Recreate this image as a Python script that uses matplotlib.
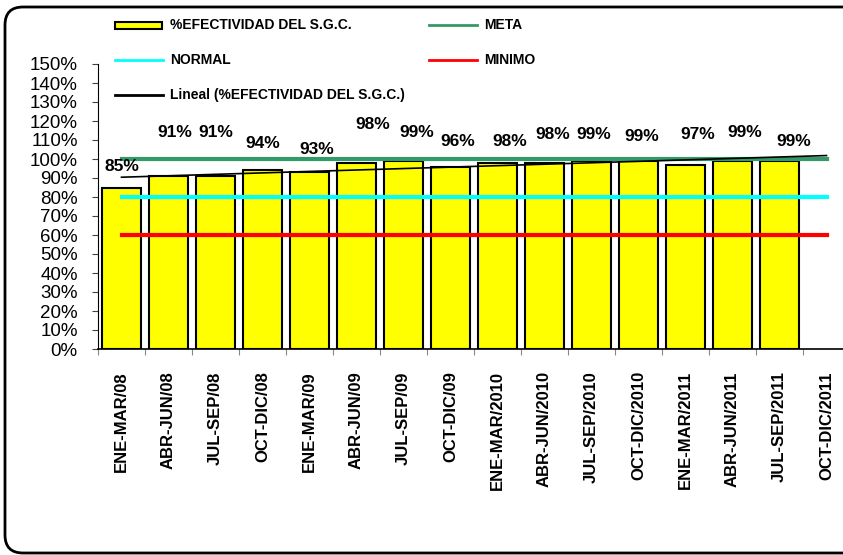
import numpy as np
import matplotlib
matplotlib.use("Agg")
import matplotlib.pyplot as plt
from matplotlib.patches import FancyBboxPatch, Rectangle
from matplotlib.lines import Line2D
from matplotlib.transforms import IdentityTransform

periodos = ["ENE-MAR/08", "ABR-JUN/08", "JUL-SEP/08", "OCT-DIC/08",
            "ENE-MAR/09", "ABR-JUN/09", "JUL-SEP/09", "OCT-DIC/09",
            "ENE-MAR/2010", "ABR-JUN/2010", "JUL-SEP/2010", "OCT-DIC/2010",
            "ENE-MAR/2011", "ABR-JUN/2011", "JUL-SEP/2011", "OCT-DIC/2011"]
efectividad = [85, 91, 91, 94, 93, 98, 99, 96, 98, 98, 99, 99, 97, 99, 99]
meta = 100
normal = 80
minimo = 60

# where the data labels sit (height in %, shift in categories)
label_y = [96, 114, 114, 108, 105, 118, 114, 109, 109, 113, 113, 112, 113, 114, 109]
label_dx = [0, .14, 0, 0, .16, .35, .29, .16, .27, .18, .05, .07, .27, .27, .31]

plt.rcParams['font.family'] = ['Liberation Sans', 'DejaVu Sans']

fig = plt.figure(figsize=(8.43, 5.55), dpi=100)
ax = fig.add_axes([98 / 843, 206 / 555, 752 / 843, 285 / 555])

n = len(periodos)
x = np.arange(n)
xb = np.arange(len(efectividad))
ax.bar(xb, efectividad, width=0.85, color='#FFFF00', edgecolor='black', linewidth=1.5, zorder=2)

ax.plot(x, [meta] * n, color='#339966', lw=3, zorder=3)
ax.plot(x, [normal] * n, color='#00FFFF', lw=3, zorder=3)
ax.plot(x, [minimo] * n, color='#FF0000', lw=3, zorder=3)

# linear trend like excel
p = np.polyfit(xb, efectividad, 1)
ax.plot(x, np.polyval(p, x), color='black', lw=1.2, zorder=4)

for i, v in enumerate(efectividad):
    ax.text(i + label_dx[i], label_y[i], f"{v}%", ha='center', va='center',
            fontsize=12.5, fontweight='bold', zorder=5)

ax.set_xlim(-0.5, n - 0.5)
ax.set_ylim(0, 150)
ax.set_yticks(np.arange(0, 151, 10))
ax.set_yticklabels([f"{t}%" for t in range(0, 151, 10)], fontsize=13.5)
ax.tick_params(axis='y', length=4.5, width=0.8, pad=10, color='#444444')

ax.set_xticks(x)
ax.set_xticklabels(periodos, rotation=90, fontsize=12, fontweight='bold', va='top')
ax.set_xticks(np.arange(n + 1) - 0.5, minor=True)
ax.tick_params(axis='x', which='major', length=0, pad=16)
ax.tick_params(axis='x', which='minor', length=4, width=0.8, color='#888888')

for s in ['top', 'right']:
    ax.spines[s].set_visible(False)
ax.spines['left'].set_linewidth(0.8)
ax.spines['bottom'].set_linewidth(1.2)

# legend drawn by hand in pixel coordinates
idt = IdentityTransform()
H = 555
leg_font = dict(fontsize=10, fontweight='bold')
fig.patches.append(Rectangle((115, H - 29), 47, 7, facecolor='#FFFF00', edgecolor='black',
                             lw=1.5, transform=idt))
entradas = [
    (115, 25, None, "%EFECTIVIDAD DEL S.G.C."),
    (429, 25, '#339966', "META"),
    (115, 60, '#00FFFF', "NORMAL"),
    (429, 60, '#FF0000', "MINIMO"),
    (115, 95, 'black', "Lineal (%EFECTIVIDAD DEL S.G.C.)"),
]
for x0, y0, col, txt in entradas:
    if col is not None:
        fig.lines.append(Line2D([x0, x0 + 48], [H - y0, H - y0], color=col,
                                lw=2, transform=idt))
    fig.text(x0 + 55, H - y0, txt, transform=idt, va='center', ha='left', **leg_font)

frame = FancyBboxPatch((5, 2), 900, H - 9, boxstyle='round,pad=0,rounding_size=18',
                       facecolor='none', edgecolor='black', lw=2, transform=idt)
fig.patches.append(frame)

fig.savefig("out.png", dpi=100)
